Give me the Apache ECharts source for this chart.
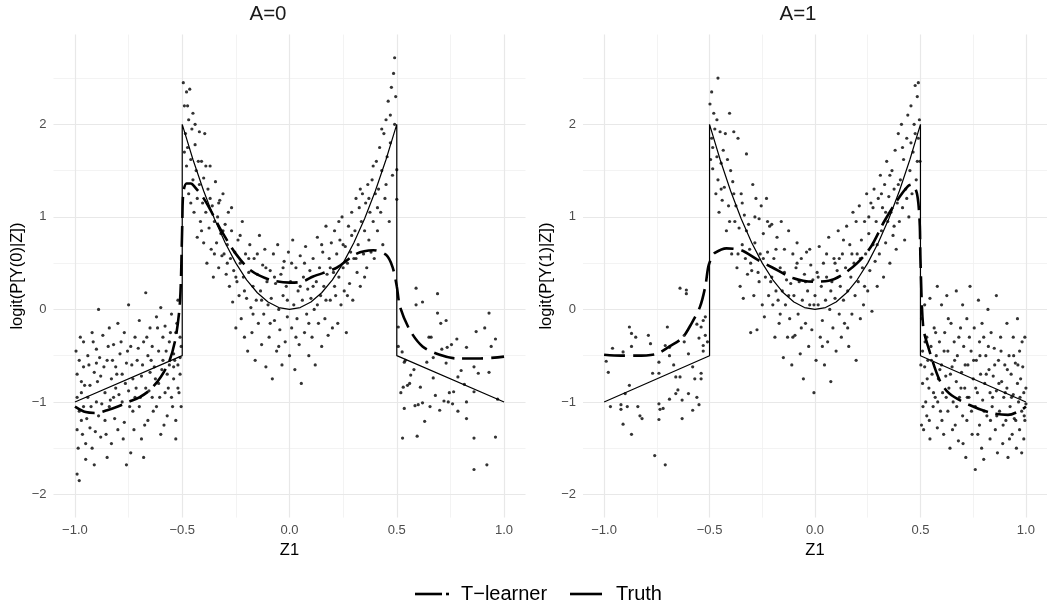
<!DOCTYPE html>
<html>
<head>
<meta charset="utf-8">
<script src="https://cdn.jsdelivr.net/npm/echarts@6/dist/echarts.min.js"></script>
<style>
  html, body { margin: 0; padding: 0; background: #fff; }
  #main { width: 1047px; height: 609px; }
</style>
</head>
<body>
<div id="main"></div>
<script>
// facets
var panels = ['A=0', 'A=1'];
var yTitles = ['logit(P[Y(0)|Z])', 'logit(P[Y(1)|Z])'];

// axis ticks / gridlines
var xTicks = [-1, -0.5, 0, 0.5, 1];
var xMinor = [-0.75, -0.25, 0.25, 0.75];
var yTicks = [-2, -1, 0, 1, 2];
var yMinor = [-1.5, -0.5, 0.5, 1.5, 2.5];

// true curve (same in both panels)
var truthZ = [-1, -0.5, -0.5, -0.45, -0.4, -0.35, -0.3, -0.25, -0.2, -0.15, -0.1, -0.05, 0, 0.05, 0.1, 0.15, 0.2, 0.25, 0.3, 0.35, 0.4, 0.45, 0.5, 0.5, 1];
var truthY = [-1, -0.5, 2, 1.62, 1.28, 0.98, 0.72, 0.5, 0.32, 0.18, 0.08, 0.02, 0, 0.02, 0.08, 0.18, 0.32, 0.5, 0.72, 0.98, 1.28, 1.62, 2, -0.5, -1];

// T-learner fits
var tlearnA0 = [[-1,-1.05],[-0.95,-1.11],[-0.9,-1.12],[-0.85,-1.09],[-0.8,-1.05],[-0.75,-1.0],[-0.7,-0.95],[-0.65,-0.87],[-0.6,-0.73],[-0.56,-0.56],[-0.53,-0.3],[-0.51,0.1],[-0.5,0.9],[-0.495,1.26],[-0.48,1.36],[-0.46,1.36],[-0.44,1.32],[-0.4,1.2],[-0.37,1.08],[-0.32,0.86],[-0.25,0.6],[-0.18,0.42],[-0.09,0.32],[0,0.29],[0.06,0.3],[0.11,0.355],[0.22,0.45],[0.31,0.6],[0.39,0.64],[0.45,0.59],[0.48,0.46],[0.5,0.25],[0.515,0.03],[0.56,-0.22],[0.62,-0.4],[0.7,-0.49],[0.78,-0.53],[0.89,-0.53],[1,-0.51]];
var tlearnA1 = [[-1,-0.49],[-0.92,-0.5],[-0.85,-0.5],[-0.75,-0.48],[-0.69,-0.4],[-0.63,-0.31],[-0.585,-0.15],[-0.545,0.03],[-0.52,0.25],[-0.506,0.46],[-0.49,0.56],[-0.475,0.61],[-0.42,0.66],[-0.35,0.64],[-0.275,0.54],[-0.2,0.45],[-0.105,0.34],[-0.01,0.3],[0.065,0.31],[0.126,0.37],[0.2,0.5],[0.266,0.68],[0.328,0.95],[0.39,1.18],[0.44,1.33],[0.46,1.35],[0.48,1.28],[0.49,1.15],[0.497,0.9],[0.5,0.54],[0.513,-0.19],[0.536,-0.4],[0.59,-0.76],[0.637,-0.91],[0.73,-1.03],[0.837,-1.12],[0.915,-1.14],[0.976,-1.09],[1,-1.05]];

// observed points, A=0
var pointsA0 = [
  [-0.99,-1.78],[-0.98,-1.85],[-0.99,-0.95],[-0.98,-0.55],[-0.97,-1.2],[-0.99,-0.7],[-0.96,-0.35],[-0.97,-0.9],[-0.95,-1.45],[-0.98,-1.1],[-0.96,-0.62],[-0.95,-1.62],[-0.99,-1.3],[-0.96,-1.05],[-0.97,-0.78],
  [-0.94,-0.5],[-0.93,-0.82],[-0.93,-1.28],[-0.92,-0.25],[-0.92,-1.5],[-0.91,-0.68],[-0.9,-1.0],[-0.9,-0.43],[-0.89,-1.15],[-0.89,0.0],[-0.88,-0.72],[-0.88,-1.38],[-0.94,-0.95],[-0.91,-1.68],[-0.9,-0.58],
  [-0.87,-0.28],[-0.86,-0.9],[-0.86,-1.2],[-0.85,-0.55],[-0.84,-0.2],[-0.84,-1.05],[-0.83,-0.75],[-0.83,-1.45],[-0.82,-0.38],[-0.82,-0.95],[-0.81,-0.62],[-0.8,-1.3],[-0.8,-0.15],[-0.85,-1.6],[-0.81,-0.85],
  [-0.79,-0.48],[-0.78,-1.0],[-0.78,-0.7],[-0.77,-0.25],[-0.77,-1.22],[-0.76,-0.58],[-0.75,-0.88],[-0.75,0.05],[-0.74,-1.55],[-0.74,-0.4],[-0.73,-0.75],[-0.73,-1.1],[-0.72,-0.3],[-0.72,-0.95],[-0.76,-1.68],
  [-0.71,-0.55],[-0.7,-0.12],[-0.7,-1.05],[-0.69,-0.72],[-0.69,-1.4],[-0.68,-0.35],[-0.67,0.18],[-0.67,-0.85],[-0.66,-0.5],[-0.66,-1.2],[-0.65,-0.68],[-0.65,-0.2],[-0.64,-0.95],[-0.64,-0.4],[-0.68,-1.6],
  [-0.63,-0.62],[-0.62,-0.08],[-0.62,-1.05],[-0.61,-0.45],[-0.61,-0.8],[-0.6,0.02],[-0.6,-1.35],[-0.59,-0.55],[-0.59,-0.3],[-0.58,-0.9],[-0.58,-0.18],[-0.57,-0.7],[-0.57,-1.15],[-0.56,-0.35],[-0.56,-0.6],
  [-0.55,-0.05],[-0.55,-0.95],[-0.54,-0.48],[-0.54,-0.75],[-0.53,-0.25],[-0.53,-1.2],[-0.52,-0.6],[-0.52,-0.85],[-0.51,-0.3],[-0.51,-0.52],[-0.505,-1.05],[-0.52,0.1],[-0.54,-0.62],[-0.51,-0.7],[-0.53,-1.4],
  [-0.995,-0.45],[-0.985,-1.5],[-0.975,-0.3],[-0.965,-1.35],[-0.955,-0.82],[-0.945,-1.18],[-0.935,-0.6],[-0.925,-1.05],[-0.915,-0.35],[-0.905,-1.32],[-0.895,-0.78],[-0.885,-0.52],[-0.875,-1.02],[-0.865,-0.62],[-0.855,-1.35],[-0.845,-0.4],[-0.835,-0.98],[-0.825,-0.55],[-0.815,-1.18],[-0.805,-0.7],
  [-0.795,-0.92],[-0.785,-0.35],[-0.775,-1.4],[-0.765,-0.8],[-0.755,-0.45],[-0.745,-1.05],[-0.735,-0.6],[-0.725,-1.3],[-0.715,-0.85],[-0.705,-0.42],[-0.695,-0.95],[-0.685,-0.6],[-0.675,-1.25],[-0.665,-0.3],[-0.655,-0.88],[-0.645,-0.55],[-0.635,-1.1],[-0.625,-0.75],[-0.615,-0.2],[-0.605,-0.95],
  [-0.595,-0.65],[-0.585,-1.25],[-0.575,-0.45],[-0.565,-0.85],[-0.555,-0.25],[-0.545,-1.05],[-0.535,-0.55],[-0.525,-0.15],[-0.515,-0.9],[-0.505,-0.4],
  [-0.495,2.45],[-0.49,2.2],[-0.485,1.9],[-0.48,2.35],[-0.48,1.55],[-0.475,1.75],[-0.47,2.05],[-0.47,1.25],[-0.465,2.38],[-0.46,1.62],[-0.455,1.95],[-0.45,1.4],[-0.45,2.12],[-0.445,1.05],[-0.44,1.78],[-0.435,1.5],[-0.43,0.78],[-0.43,1.2],[-0.42,1.92],[-0.42,1.35],[-0.415,0.95],[-0.41,1.6],[-0.405,1.15],[-0.4,0.72],[-0.4,1.42],
  [-0.395,1.9],[-0.39,1.05],[-0.385,0.5],[-0.38,1.3],[-0.375,0.88],[-0.37,1.55],[-0.365,0.65],[-0.36,1.12],[-0.355,0.35],[-0.35,0.95],[-0.345,1.38],[-0.34,0.72],[-0.335,1.0],[-0.33,0.45],[-0.325,1.18],[-0.32,0.82],[-0.315,0.58],[-0.31,1.25],[-0.305,0.6],[-0.3,0.92],
  [-0.295,0.38],[-0.29,0.7],[-0.285,1.05],[-0.28,0.25],[-0.275,0.55],[-0.27,0.85],[-0.265,0.08],[-0.26,0.42],[-0.255,0.62],[-0.25,-0.2],[-0.245,0.3],[-0.24,0.75],[-0.235,0.15],[-0.23,0.5],[-0.225,-0.1],[-0.22,0.95],[-0.215,0.35],[-0.21,-0.3],[-0.205,0.6],[-0.2,0.12],
  [-0.195,-0.45],[-0.19,0.4],[-0.185,0.7],[-0.18,0.02],[-0.175,-0.25],[-0.17,0.25],[-0.165,0.55],[-0.16,-0.55],[-0.155,0.1],[-0.15,0.38],[-0.145,-0.15],[-0.14,0.8],[-0.135,0.2],[-0.13,-0.38],[-0.125,0.48],[-0.12,-0.05],[-0.115,0.65],[-0.11,-0.62],[-0.105,0.3],[-0.1,0.05],
  [-0.095,-0.3],[-0.09,0.42],[-0.085,0.12],[-0.08,-0.75],[-0.075,0.6],[-0.07,-0.12],[-0.065,0.28],[-0.06,-0.45],[-0.055,0.7],[-0.05,0.0],[-0.045,-0.22],[-0.04,0.38],[-0.035,-0.6],[-0.03,0.15],[-0.025,0.52],[-0.02,-0.35],[-0.015,0.25],[-0.01,-0.08],[-0.005,0.62],[0.0,-0.5],
  [0.005,0.3],[0.01,-0.2],[0.015,0.75],[0.02,0.05],[0.025,-0.65],[0.03,0.45],[0.035,-0.1],[0.04,0.2],[0.045,-0.38],[0.05,0.58],[0.055,-0.8],[0.06,0.1],[0.065,0.35],[0.07,-0.25],[0.075,0.68],[0.08,-0.05],[0.085,0.22],[0.09,-0.5],[0.095,0.42],[0.1,0.12],
  [0.105,-0.3],[0.11,0.55],[0.115,0.0],[0.12,-0.6],[0.125,0.3],[0.13,0.78],[0.135,-0.15],[0.14,0.45],[0.145,0.15],[0.15,-0.4],[0.155,0.62],[0.16,0.25],[0.165,-0.1],[0.17,0.9],[0.175,0.38],[0.18,-0.28],[0.185,0.55],[0.19,0.1],[0.195,0.72],[0.2,-0.2],
  [0.205,0.4],[0.21,0.85],[0.215,0.15],[0.22,0.6],[0.225,-0.15],[0.23,0.35],[0.235,0.75],[0.24,0.05],[0.245,1.0],[0.25,0.45],[0.255,0.2],[0.26,0.68],[0.265,-0.25],[0.27,0.5],[0.275,0.9],[0.28,0.28],[0.285,0.62],[0.29,1.05],[0.295,0.1],[0.3,0.55],
  [0.305,0.85],[0.31,1.2],[0.315,0.4],[0.32,0.7],[0.325,1.1],[0.33,0.25],[0.335,0.95],[0.34,1.25],[0.345,0.6],[0.35,0.85],[0.355,1.15],[0.36,0.45],[0.365,1.35],[0.37,0.75],[0.375,1.05],[0.38,0.62],[0.385,1.4],[0.39,0.95],[0.395,0.55],[0.4,1.25],
  [0.405,1.6],[0.41,0.85],[0.415,1.3],[0.42,1.75],[0.425,1.05],[0.43,1.5],[0.435,0.7],[0.44,1.9],[0.445,1.2],[0.45,2.05],[0.455,1.65],[0.46,2.25],[0.465,0.95],[0.47,1.8],[0.475,2.4],[0.48,1.45],[0.485,2.55],[0.49,2.0],[0.49,2.72],[0.495,2.3],
  [-0.49,1.7],[-0.475,2.2],[-0.46,1.15],[-0.44,2.0],[-0.425,1.6],[-0.41,0.85],[-0.39,1.55],[-0.37,1.2],[-0.35,0.6],[-0.33,1.15],[-0.31,0.85],[-0.29,0.5],[-0.27,1.1],[-0.25,0.35],[-0.23,0.8],[-0.21,0.2],[-0.19,0.55],[-0.17,-0.05],[-0.15,0.6],[-0.13,0.1],
  [-0.11,0.45],[-0.09,-0.15],[-0.07,0.35],[-0.05,-0.4],[-0.03,0.45],[-0.01,0.1],[0.01,0.5],[0.03,-0.3],[0.05,0.25],[0.07,0.5],[0.09,-0.15],[0.11,0.25],[0.13,0.05],[0.15,0.7],[0.17,0.1],[0.19,0.45],[0.21,0.25],[0.23,0.95],[0.25,0.7],[0.27,0.15],
  [0.29,0.8],[0.31,0.55],[0.33,1.3],[0.35,0.35],[0.37,1.2],[0.39,1.55],[0.41,1.1],[0.43,1.95],[0.45,1.35],[0.47,2.1],
  [0.5,1.51],[0.5,1.19],[0.507,-0.19],[0.507,-0.4],[0.525,-0.46],[0.54,-0.55],[0.535,-0.57],[0.519,-0.9],[0.53,-0.84],[0.535,-1.07],[0.527,-1.39],[0.55,-0.82],[0.56,-0.8],[0.565,-0.71],[0.58,-0.65],[0.585,-1.04],[0.59,0.05],[0.59,0.23],[0.595,-1.37],[0.6,-1.03],
  [0.61,-0.84],[0.62,0.08],[0.62,-1.01],[0.63,-1.21],[0.64,-0.57],[0.65,-0.3],[0.655,-1.05],[0.66,-0.3],[0.67,-0.74],[0.67,-0.52],[0.68,-0.93],[0.69,0.17],[0.69,-0.04],[0.7,-1.09],[0.705,-0.15],[0.71,-0.43],[0.72,-0.99],[0.73,-0.12],[0.73,-0.58],[0.735,-0.41],
  [0.74,-1.0],[0.745,-0.9],[0.755,-0.38],[0.76,-1.02],[0.765,-0.89],[0.78,-0.32],[0.785,-1.1],[0.785,-0.73],[0.8,-0.66],[0.815,-0.81],[0.825,-0.41],[0.825,-1.0],[0.825,-1.18],[0.86,-0.89],[0.86,-0.62],[0.86,-1.39],[0.87,-0.24],[0.88,-0.69],[0.91,-0.2],[0.93,-0.04],
  [0.93,-0.68],[0.94,-0.4],[0.96,-0.32],[0.96,-1.38],[0.97,-0.97],[0.86,-1.73],[0.92,-1.68]
];

// observed points, A=1
var pointsA1 = [
  [-0.99,-0.56],[-0.98,-0.68],[-0.97,-1.05],[-0.96,-0.42],[-0.92,-1.03],[-0.92,-1.08],[-0.91,-1.24],[-0.91,-0.46],[-0.9,-0.91],[-0.89,-1.05],[-0.88,-0.82],[-0.88,-0.19],[-0.87,-0.26],[-0.87,-1.35],[-0.87,-0.4],[-0.85,-0.3],[-0.84,-1.05],[-0.83,-1.15],[-0.82,-1.18],[-0.79,-0.28],
  [-0.78,-0.37],[-0.77,-0.69],[-0.74,-1.02],[-0.74,-1.19],[-0.74,-0.69],[-0.74,-0.57],[-0.735,-1.08],[-0.72,-1.07],[-0.71,-0.39],[-0.7,-0.19],[-0.69,-0.41],[-0.69,-0.97],[-0.69,-0.5],[-0.67,-0.6],[-0.66,-0.73],[-0.66,-0.91],[-0.65,-0.87],[-0.64,-0.73],[-0.64,0.23],[-0.63,-0.98],
  [-0.63,-1.18],[-0.62,-0.28],[-0.62,-0.35],[-0.61,0.17],[-0.61,0.21],[-0.6,-0.48],[-0.6,-0.91],[-0.58,-1.09],[-0.58,-0.62],[-0.57,-0.75],[-0.56,-0.95],[-0.56,-0.16],[-0.55,-0.31],[-0.55,-1.03],[-0.54,-0.75],[-0.54,-0.69],[-0.54,-0.19],[-0.53,-0.39],[-0.53,-0.12],[-0.53,-0.45],
  [-0.52,-0.28],[-0.52,-0.08],[-0.51,-0.35],[-0.71,-1.68],[-0.76,-1.58],
  [-0.498,2.22],[-0.495,1.62],[-0.49,2.35],[-0.49,1.85],[-0.485,1.52],[-0.48,2.12],[-0.475,1.95],[-0.47,1.25],[-0.465,1.65],[-0.46,2.5],[-0.46,1.4],[-0.455,1.05],[-0.45,1.92],[-0.445,1.58],[-0.44,1.18],[-0.435,1.72],[-0.43,1.32],[-0.42,0.85],[-0.415,1.62],[-0.41,1.12],[-0.405,2.12],[-0.4,1.5],
  [-0.395,0.6],[-0.39,1.38],[-0.385,1.92],[-0.38,0.95],[-0.375,1.12],[-0.37,0.45],[-0.365,1.85],[-0.36,0.88],[-0.355,0.25],[-0.35,1.25],[-0.345,0.7],[-0.34,0.12],[-0.335,1.02],[-0.33,0.55],[-0.325,1.68],[-0.32,0.38],[-0.315,0.92],[-0.31,0.65],[-0.305,-0.25],[-0.3,0.42],
  [-0.295,1.35],[-0.29,0.15],[-0.285,0.72],[-0.28,1.2],[-0.275,-0.22],[-0.27,0.4],[-0.265,0.98],[-0.26,0.6],[-0.255,1.12],[-0.25,0.05],[-0.245,0.82],[-0.24,-0.08],[-0.235,0.35],[-0.23,1.2],[-0.225,0.62],[-0.22,0.15],[-0.215,0.9],[-0.21,0.3],[-0.205,0.92],[-0.2,0.05],
  [-0.195,0.55],[-0.19,-0.3],[-0.185,0.2],[-0.18,0.78],[-0.175,0.1],[-0.17,-0.15],[-0.165,0.45],[-0.16,0.95],[-0.155,0.2],[-0.15,-0.52],[-0.145,0.65],[-0.14,0.05],[-0.135,0.32],[-0.13,-0.3],[-0.125,0.85],[-0.12,-0.1],[-0.115,0.28],[-0.11,-0.6],[-0.105,0.6],[-0.1,0.15],
  [-0.095,-0.28],[-0.09,0.45],[-0.085,0.72],[-0.08,-0.05],[-0.075,0.3],[-0.07,-0.48],[-0.065,0.55],[-0.06,0.1],[-0.055,-0.75],[-0.05,0.38],[-0.045,-0.15],[-0.04,0.62],[-0.035,0.2],[-0.03,-0.4],[-0.025,0.05],[-0.02,0.48],[-0.015,-0.22],[-0.01,0.32],[-0.005,-0.9],[0.0,0.15],
  [0.005,-0.55],[0.01,0.4],[0.015,0.05],[0.02,0.68],[0.025,-0.3],[0.03,0.25],[0.035,-0.12],[0.04,0.5],[0.045,-0.6],[0.05,0.1],[0.055,0.35],[0.06,-0.35],[0.065,0.78],[0.07,0.0],[0.075,-0.78],[0.08,0.3],[0.085,-0.2],[0.09,0.55],[0.095,0.12],[0.1,-0.45],
  [0.105,0.42],[0.11,0.85],[0.115,-0.05],[0.12,0.25],[0.125,-0.3],[0.13,0.6],[0.135,0.1],[0.14,-0.15],[0.145,0.45],[0.15,0.9],[0.155,0.2],[0.16,-0.4],[0.165,0.7],[0.17,0.35],[0.175,-0.05],[0.18,1.05],[0.185,0.5],[0.19,0.15],[0.195,-0.55],[0.2,0.6],
  [0.205,0.3],[0.21,1.12],[0.215,-0.1],[0.22,0.75],[0.225,0.45],[0.23,0.05],[0.235,0.95],[0.24,0.6],[0.245,1.25],[0.25,0.2],[0.255,0.82],[0.26,0.42],[0.265,1.15],[0.27,-0.02],[0.275,0.7],[0.28,1.3],[0.285,0.52],[0.29,0.95],[0.295,0.25],[0.3,1.2],
  [0.305,0.6],[0.31,1.45],[0.315,0.85],[0.32,1.1],[0.325,0.35],[0.33,1.35],[0.335,0.72],[0.34,1.6],[0.345,0.95],[0.35,1.22],[0.355,0.5],[0.36,1.05],[0.365,1.5],[0.37,0.8],[0.375,1.3],[0.38,1.72],[0.385,0.65],[0.39,1.15],[0.395,1.9],[0.4,0.95],
  [0.405,1.4],[0.41,2.0],[0.415,1.1],[0.42,1.62],[0.425,0.75],[0.43,1.3],[0.435,1.85],[0.44,2.1],[0.445,1.0],[0.45,1.5],[0.455,2.2],[0.46,1.25],[0.465,1.7],[0.47,2.0],[0.475,2.42],[0.48,1.4],[0.485,2.3],[0.49,1.85],[0.49,2.45],[0.495,2.05],[0.498,1.6],
  [-0.485,1.75],[-0.465,2.05],[-0.445,1.3],[-0.425,1.9],[-0.405,0.95],[-0.385,1.25],[-0.365,0.6],[-0.345,1.15],[-0.325,0.85],[-0.305,0.5],[-0.285,1.0],[-0.265,0.3],[-0.245,0.55],[-0.225,0.95],[-0.205,0.35],[-0.185,0.65],[-0.165,-0.05],[-0.145,0.4],[-0.125,0.15],[-0.105,-0.3],
  [-0.085,0.5],[-0.065,-0.2],[-0.045,0.3],[-0.025,0.65],[-0.005,0.05],[0.015,0.35],[0.035,-0.4],[0.055,0.6],[0.075,0.2],[0.095,0.5],[0.115,0.55],[0.135,0.75],[0.155,-0.2],[0.175,0.6],[0.195,0.95],[0.215,0.55],[0.235,0.25],[0.255,1.0],[0.275,1.1],[0.295,0.7],
  [0.315,1.25],[0.335,1.05],[0.355,1.45],[0.375,0.9],[0.395,1.35],[0.415,1.75],[0.435,1.2],[0.455,1.8],[0.475,1.9],[0.485,1.6],
  [0.505,-0.1],[0.505,-1.25],[0.51,-0.45],[0.51,-0.8],[0.515,-1.3],[0.52,0.05],[0.52,-0.62],[0.525,-1.0],[0.53,-0.3],[0.53,-1.15],[0.535,-0.55],[0.54,-0.85],[0.545,0.12],[0.545,-1.4],[0.55,-0.4],[0.555,-0.7],[0.56,-1.05],[0.565,-0.2],[0.57,-0.95],[0.575,-0.5],[0.58,0.25],[0.58,-1.28],[0.585,-0.75],[0.59,-0.35],[0.595,-1.1],[0.6,-0.6],[0.6,0.05],
  [0.605,-0.9],[0.61,-1.35],[0.615,-0.25],[0.62,-0.72],[0.625,0.15],[0.63,-1.1],[0.63,-0.45],[0.635,-0.85],[0.64,-1.5],[0.645,-0.15],[0.65,-0.62],[0.655,-1.0],[0.66,-0.35],[0.665,-1.25],[0.67,0.2],[0.67,-0.78],[0.675,-0.5],[0.68,-1.42],[0.685,-0.95],[0.69,-0.2],[0.695,-0.68],[0.7,-1.15],[0.7,0.05],
  [0.705,-0.4],[0.71,-0.85],[0.715,-1.6],[0.72,-0.1],[0.72,-1.2],[0.725,-0.6],[0.73,-0.95],[0.735,0.25],[0.74,-0.45],[0.745,-1.35],[0.75,-0.75],[0.755,-0.2],[0.76,-1.05],[0.76,-1.73],[0.765,-0.55],[0.77,-0.9],[0.775,0.1],[0.78,-1.25],[0.78,-0.35],[0.785,-0.7],[0.79,-1.5],[0.795,-0.98],[0.8,-0.3],[0.8,-1.62],
  [0.805,-0.8],[0.81,-0.5],[0.815,-1.15],[0.82,0.0],[0.825,-0.65],[0.83,-1.4],[0.83,-0.9],[0.835,-0.25],[0.84,-1.05],[0.845,-0.72],[0.85,-0.42],[0.855,-1.3],[0.86,0.15],[0.86,-0.88],[0.865,-1.55],[0.87,-0.55],[0.875,-1.1],[0.88,-0.3],[0.885,-0.78],[0.89,-1.45],[0.895,-0.95],[0.9,-0.6],
  [0.905,-1.2],[0.91,-0.15],[0.91,-0.85],[0.915,-1.6],[0.92,-0.5],[0.925,-1.05],[0.93,-0.7],[0.935,-1.35],[0.94,-0.3],[0.94,-0.92],[0.945,-1.18],[0.95,-0.58],[0.955,-1.5],[0.96,-0.8],[0.96,-0.1],[0.965,-1.0],[0.97,-1.3],[0.97,-0.45],[0.975,-0.75],[0.98,-1.55],[0.98,-1.1],[0.985,-0.62],[0.99,-0.9],[0.99,-1.4],[0.995,-0.3],[0.995,-1.2],[1.0,-0.85],[1.0,-1.02],
  [0.502,-0.6],[0.512,-1.05],[0.522,-0.35],[0.532,-0.75],[0.542,-1.2],[0.552,-0.55],[0.562,-0.9],[0.572,-0.25],[0.582,-1.0],[0.592,-0.65],[0.602,-1.2],[0.612,-0.45],[0.622,-0.95],[0.632,-0.1],[0.642,-0.7],[0.652,-1.3],[0.662,-0.55],[0.672,-1.05],[0.682,-0.3],[0.692,-0.85],
  [0.702,-1.45],[0.712,-0.6],[0.722,-0.95],[0.732,-0.3],[0.742,-1.1],[0.752,-0.55],[0.762,-0.85],[0.772,-1.35],[0.782,-0.5],[0.792,-0.15],[0.802,-1.1],[0.812,-0.7],[0.822,-0.4],[0.832,-1.2],[0.842,-0.95],[0.852,-0.6],[0.862,-1.15],[0.872,-0.8],[0.882,-0.45],[0.892,-1.25],
  [0.902,-0.9],[0.912,-0.65],[0.922,-1.4],[0.932,-0.95],[0.942,-0.5],[0.952,-1.2],[0.962,-0.6],[0.972,-0.95],[0.982,-0.35],[0.992,-1.15]
];

var FONT = '"Liberation Sans", Arial, Helvetica, sans-serif';
var minus = function (s) { return s.replace('-', '\u2212'); };

var grids = [
  { left: 53.5, top: 34.6, width: 472, height: 483 },
  { left: 583, top: 34.6, width: 473, height: 483 }
];

// gridlines as markLines so they sit on the data scale
function gridLines() {
  var d = [];
  var minor = { color: '#f0f0f0', width: 0.8, type: 'solid' };
  var major = { color: '#e8e8e8', width: 1.2, type: 'solid' };
  xMinor.forEach(function (v) { d.push({ xAxis: v, lineStyle: minor }); });
  yMinor.forEach(function (v) { d.push({ yAxis: v, lineStyle: minor }); });
  xTicks.forEach(function (v) { d.push({ xAxis: v, lineStyle: major }); });
  yTicks.forEach(function (v) { d.push({ yAxis: v, lineStyle: major }); });
  return d;
}

var truthData = truthZ.map(function (z, i) { return [z, truthY[i]]; });
var pointSets = [pointsA0, pointsA1];
var fitSets = [tlearnA0, tlearnA1];

var xAxes = [], yAxes = [], series = [];
panels.forEach(function (p, i) {
  xAxes.push({
    gridIndex: i, type: 'value', min: -1.1, max: 1.1,
    axisLine: { show: false },
    axisTick: { show: false, customValues: xTicks },
    axisLabel: { customValues: xTicks, color: '#4d4d4d', fontSize: 13, margin: 6,
      formatter: function (v) { return minus(v.toFixed(1)); } },
    splitLine: { show: false },
    name: 'Z1', nameLocation: 'middle', nameGap: 23,
    nameTextStyle: { fontSize: 16.5, color: '#000' }
  });
  yAxes.push({
    gridIndex: i, type: 'value', min: -2.25, max: 2.97,
    axisLine: { show: false },
    axisTick: { show: false, customValues: yTicks },
    axisLabel: { customValues: yTicks, color: '#4d4d4d', fontSize: 13, margin: 7,
      formatter: function (v) { return minus(String(v)); } },
    splitLine: { show: false },
    name: yTitles[i], nameLocation: 'middle', nameGap: 28,
    nameTextStyle: { fontSize: 16.5, color: '#000' }
  });
  series.push({
    type: 'scatter', xAxisIndex: i, yAxisIndex: i, z: 10,
    data: pointSets[i], symbol: 'circle', symbolSize: 3.2,
    itemStyle: { color: '#000' }, silent: true,
    markLine: { silent: true, symbol: 'none', z: 1, label: { show: false }, animation: false, data: gridLines() }
  });
  series.push({
    name: 'Truth', type: 'line', xAxisIndex: i, yAxisIndex: i, z: 11,
    data: truthData, showSymbol: false, symbol: 'none', silent: true,
    lineStyle: { color: '#000', width: 1.2 }
  });
  series.push({
    name: 'T\u2212learner', type: 'line', xAxisIndex: i, yAxisIndex: i, z: 12,
    data: fitSets[i], showSymbol: false, symbol: 'none', silent: true, smooth: 0.3,
    lineStyle: { color: '#000', width: 2.6, type: [21, 8], cap: 'butt' }
  });
});

var chart = echarts.init(document.getElementById('main'), null, { renderer: 'canvas' });
chart.setOption({
  animation: false,
  backgroundColor: '#fff',
  textStyle: { fontFamily: FONT },
  grid: grids,
  xAxis: xAxes,
  yAxis: yAxes,
  series: series,
  graphic: [
    { type: 'text', x: 268, y: 14, style: { text: panels[0], font: '20.5px ' + FONT, fill: '#1a1a1a', textAlign: 'center', textVerticalAlign: 'middle' } },
    { type: 'text', x: 798, y: 14, style: { text: panels[1], font: '20.5px ' + FONT, fill: '#1a1a1a', textAlign: 'center', textVerticalAlign: 'middle' } },
    // legend
    { type: 'line', shape: { x1: 415, y1: 594, x2: 442, y2: 594 }, style: { stroke: '#000', lineWidth: 2.6 } },
    { type: 'line', shape: { x1: 446, y1: 594, x2: 449, y2: 594 }, style: { stroke: '#000', lineWidth: 2.6 } },
    { type: 'text', x: 461, y: 594, style: { text: 'T\u2212learner', font: '20px ' + FONT, fill: '#000', textAlign: 'left', textVerticalAlign: 'middle' } },
    { type: 'line', shape: { x1: 570, y1: 594, x2: 602, y2: 594 }, style: { stroke: '#000', lineWidth: 2.6 } },
    { type: 'text', x: 616, y: 594, style: { text: 'Truth', font: '20px ' + FONT, fill: '#000', textAlign: 'left', textVerticalAlign: 'middle' } }
  ]
});
</script>
</body>
</html>
